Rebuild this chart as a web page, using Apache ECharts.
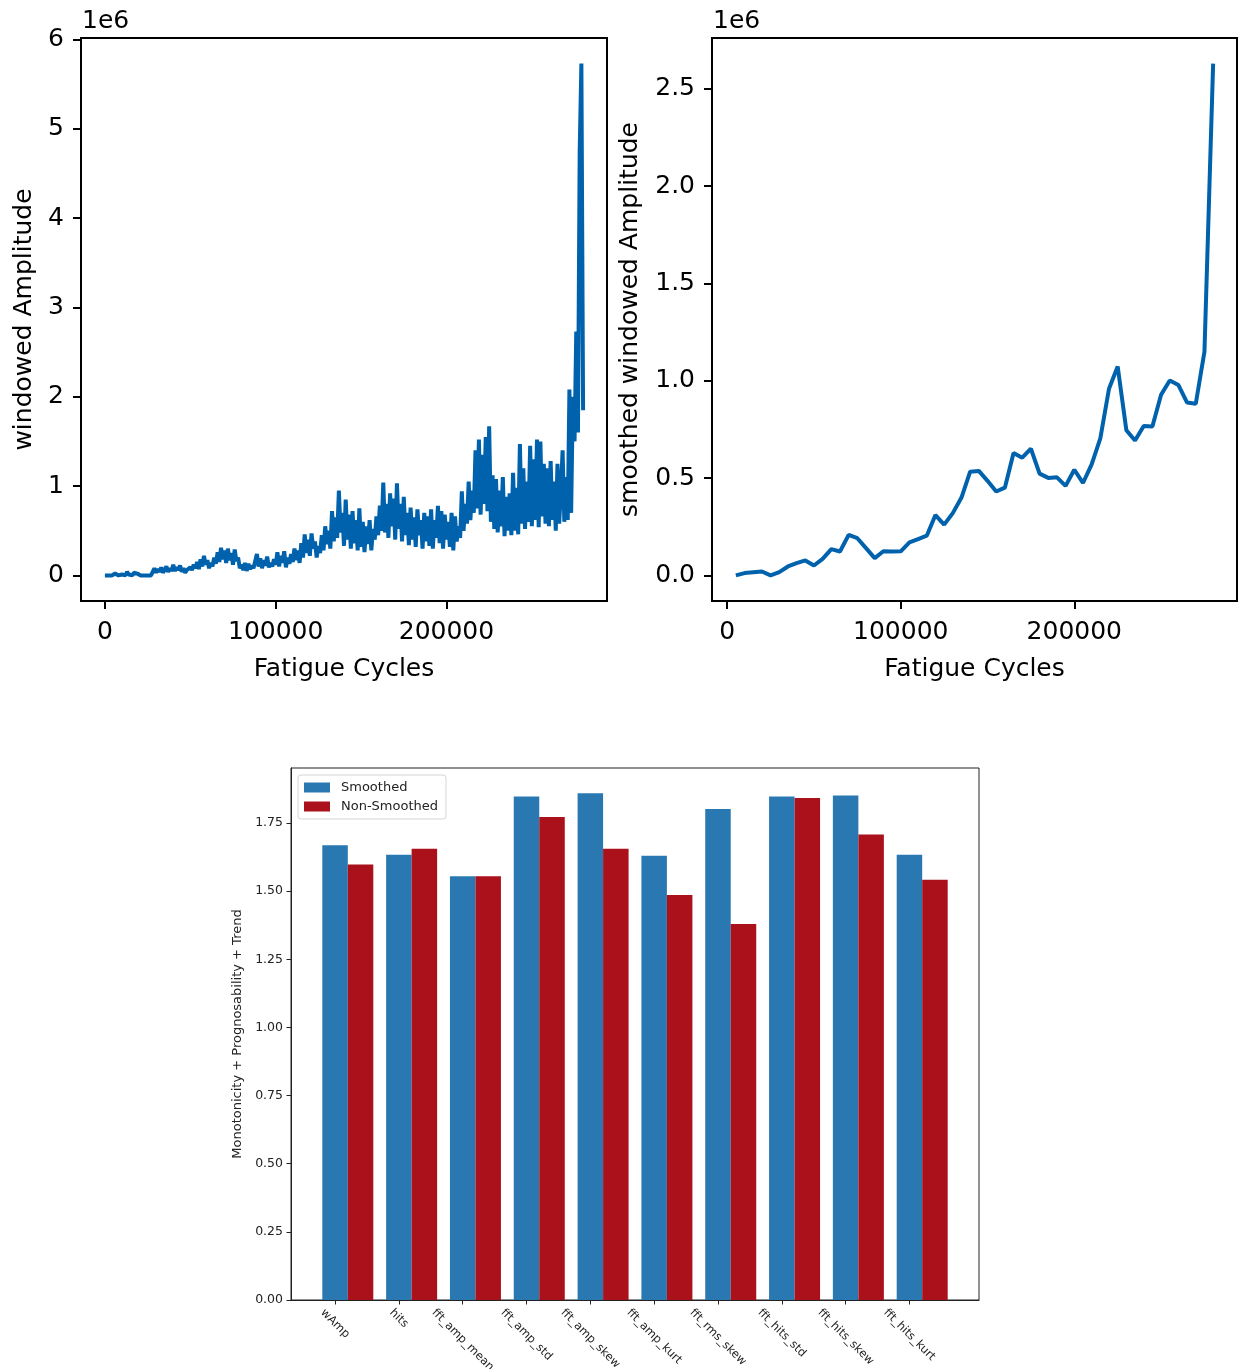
<!DOCTYPE html>
<html><head><meta charset="utf-8">
<script src="https://cdn.jsdelivr.net/npm/echarts@6/dist/echarts.min.js"></script>
<style>html,body{margin:0;padding:0;background:#fff}#c{width:1242px;height:1369px}</style>
</head><body><div id="c"></div>
<script>
// ---------- data ----------
// windowed amplitude (units of 1e6), one reading every WIN_STEP cycles starting at 0
const WIN_STEP = 1000;
const WIN_AMP = [
0.00,0.01,0.00,0.02,0.00,0.01,0.02,0.04,0.00,0.02,
0.01,0.03,0.00,0.04,0.01,0.02,0.00,0.03,0.01,0.02,
0.01,0.00,0.02,0.00,0.01,0.00,0.01,0.00,0.02,0.08,
0.03,0.07,0.04,0.09,0.03,0.06,0.10,0.04,0.08,0.05,
0.12,0.05,0.09,0.06,0.11,0.04,0.08,0.03,0.06,0.05,
0.09,0.06,0.12,0.08,0.15,0.07,0.18,0.10,0.22,0.12,
0.17,0.08,0.14,0.10,0.20,0.13,0.26,0.15,0.31,0.18,
0.28,0.14,0.30,0.17,0.25,0.12,0.29,0.16,0.20,0.08,
0.12,0.06,0.14,0.05,0.13,0.07,0.11,0.08,0.16,0.24,
0.10,0.19,0.08,0.17,0.11,0.21,0.09,0.14,0.10,0.18,
0.12,0.26,0.10,0.22,0.14,0.27,0.09,0.20,0.13,0.24,
0.15,0.30,0.17,0.28,0.14,0.36,0.20,0.46,0.25,0.40,
0.22,0.47,0.30,0.38,0.20,0.33,0.25,0.45,0.28,0.55,
0.35,0.50,0.30,0.72,0.38,0.65,0.42,0.95,0.48,0.70,
0.33,0.85,0.40,0.68,0.30,0.72,0.36,0.62,0.28,0.75,
0.32,0.60,0.26,0.55,0.35,0.62,0.28,0.52,0.40,0.66,
0.45,0.78,0.50,1.04,0.48,0.80,0.42,0.92,0.55,0.86,
0.40,1.03,0.52,0.80,0.38,0.88,0.45,0.70,0.34,0.76,
0.40,0.65,0.32,0.74,0.45,0.62,0.30,0.70,0.38,0.66,
0.33,0.74,0.30,0.62,0.42,0.78,0.36,0.72,0.30,0.68,
0.40,0.60,0.32,0.70,0.28,0.66,0.38,0.55,0.42,0.94,
0.50,0.80,0.58,1.05,0.62,0.95,0.70,1.40,0.75,1.52,
0.68,1.35,0.80,1.55,0.72,1.67,0.60,1.12,0.52,1.08,
0.48,0.95,0.55,1.10,0.44,0.88,0.50,0.92,0.45,1.15,
0.50,0.98,0.46,1.47,0.58,1.20,0.52,1.05,0.60,1.45,
0.55,1.30,0.62,1.52,0.54,1.50,0.66,1.25,0.58,1.20,
0.55,1.28,0.62,1.05,0.50,1.25,0.58,0.95,1.40,0.60,
1.10,0.62,2.08,0.70,2.00,1.50,2.73,1.60,4.73,5.73,
1.85
];

// smoothed windowed amplitude (units of 1e6)
const SMOOTH_CYCLES = [
5000,10000,15000,20000,25000,30000,35000,40000,45000,50000,
55000,60000,65000,70000,75000,80000,85000,90000,95000,100000,
105000,110000,115000,120000,125000,130000,135000,140000,145000,150000,
155000,160000,165000,170000,175000,180000,185000,190000,195000,200000,
205000,210000,215000,220000,225000,230000,235000,240000,245000,250000,
255000,260000,265000,270000,275000,280000];
const SMOOTH_AMP = [
0.000,0.012,0.016,0.020,0.000,0.017,0.046,0.063,0.077,0.051,
0.085,0.135,0.123,0.208,0.191,0.140,0.089,0.124,0.123,0.124,
0.170,0.187,0.204,0.310,0.261,0.320,0.400,0.533,0.537,0.486,
0.431,0.451,0.629,0.605,0.651,0.523,0.501,0.504,0.460,0.543,
0.475,0.571,0.704,0.959,1.073,0.746,0.693,0.768,0.765,0.928,
1.002,0.978,0.888,0.882,1.150,2.630];

const X_TICKS = [0, 100000, 200000];
const LEFT_Y_TICKS = [0, 1, 2, 3, 4, 5, 6];
const RIGHT_Y_TICKS = [0, 0.5, 1.0, 1.5, 2.0, 2.5];

// bar chart
const FEATURES = ['wAmp','hits','fft_amp_mean','fft_amp_std','fft_amp_skew','fft_amp_kurt','fft_rms_skew','fft_hits_std','fft_hits_skew','fft_hits_kurt'];
const SMOOTHED = [1.669,1.634,1.555,1.847,1.859,1.630,1.802,1.847,1.851,1.634];
const NON_SMOOTHED = [1.598,1.656,1.555,1.772,1.656,1.486,1.380,1.842,1.708,1.542];
const BAR_Y_TICKS = [0, 0.25, 0.5, 0.75, 1.0, 1.25, 1.5, 1.75];

// ---------- chart ----------
const FONT = 'DejaVu Sans';
const LINE_COLOR = '#0062ad';
const BLUE = '#2a78b2';
const RED = '#aa111b';
const CAT_FONT = 11.5;

const winData = WIN_AMP.map((v, k) => [k * WIN_STEP, v]);
const smoothData = SMOOTH_AMP.map((v, k) => [SMOOTH_CYCLES[k], v]);

const ctx = document.createElement('canvas').getContext('2d');
ctx.font = CAT_FONT + 'px "' + FONT + '"';
const rich = {};
FEATURES.forEach((f, i) => {
  const w = ctx.measureText(f).width;
  rich['f' + i] = {padding: [w * 0.5, 0, 0, w * 0.5], fontSize: CAT_FONT, fontFamily: FONT, color: '#222'};
});

function topX(gridIndex) {
  return {
    type: 'value', gridIndex, min: -14000, max: 294000,
    axisLine: {onZero: false, lineStyle: {color: '#000', width: 2}},
    axisTick: {customValues: X_TICKS, length: 8, lineStyle: {color: '#000', width: 2}},
    axisLabel: {customValues: X_TICKS, fontSize: 25, fontFamily: FONT, color: '#000', margin: 19,
      formatter: v => String(v)},
    splitLine: {show: false},
    name: 'Fatigue Cycles', nameLocation: 'middle', nameGap: 56,
    nameTextStyle: {fontSize: 25, fontFamily: FONT, color: '#000'}
  };
}

const option = {
  animation: false,
  backgroundColor: '#fff',
  grid: [
    {left: 81, top: 38, width: 526, height: 563, show: true, borderColor: '#000', borderWidth: 2, backgroundColor: 'transparent', outerBoundsMode: 'none', containLabel: false},
    {left: 712, top: 38, width: 525, height: 563, show: true, borderColor: '#000', borderWidth: 2, backgroundColor: 'transparent', outerBoundsMode: 'none', containLabel: false},
    {left: 291, top: 768, width: 688, height: 532, show: true, borderColor: '#222', borderWidth: 1, backgroundColor: 'transparent', outerBoundsMode: 'none', containLabel: false}
  ],
  xAxis: [
    topX(0),
    Object.assign(topX(1), {min: -8750, max: 293750}),
    {
      type: 'value', gridIndex: 2, min: -0.89, max: 9.89,
      axisLine: {onZero: false, lineStyle: {color: '#222', width: 1}},
      axisTick: {customValues: FEATURES.map((f, i) => i - 0.2), length: 4.5, lineStyle: {color: '#222', width: 1}},
      axisLabel: {
        customValues: FEATURES.map((f, i) => i - 0.2),
        rotate: -45, align: 'center', verticalAlign: 'middle', margin: 11,
        formatter: v => { const i = Math.round(v + 0.2); return '{f' + i + '|' + FEATURES[i] + '}'; },
        rich
      },
      splitLine: {show: false}
    }
  ],
  yAxis: [
    {
      type: 'value', gridIndex: 0, min: -0.2865, max: 6.0165,
      axisLine: {onZero: false, lineStyle: {color: '#000', width: 2}},
      axisTick: {customValues: LEFT_Y_TICKS, length: 8, lineStyle: {color: '#000', width: 2}},
      axisLabel: {customValues: LEFT_Y_TICKS, fontSize: 25, fontFamily: FONT, color: '#000', margin: 17},
      splitLine: {show: false},
      name: 'windowed Amplitude', nameLocation: 'middle', nameGap: 44, nameRotate: 90,
      nameTextStyle: {fontSize: 25, fontFamily: FONT, color: '#000'}
    },
    {
      type: 'value', gridIndex: 1, min: -0.1315, max: 2.7615,
      axisLine: {onZero: false, lineStyle: {color: '#000', width: 2}},
      axisTick: {customValues: RIGHT_Y_TICKS, length: 8, lineStyle: {color: '#000', width: 2}},
      axisLabel: {customValues: RIGHT_Y_TICKS, fontSize: 25, fontFamily: FONT, color: '#000', margin: 17,
        formatter: v => v.toFixed(1)},
      splitLine: {show: false},
      name: 'smoothed windowed Amplitude', nameLocation: 'middle', nameGap: 69, nameRotate: 90,
      nameTextStyle: {fontSize: 25, fontFamily: FONT, color: '#000'}
    },
    {
      type: 'value', gridIndex: 2, min: 0, max: 1.952,
      axisLine: {onZero: false, lineStyle: {color: '#222', width: 1}},
      axisTick: {customValues: BAR_Y_TICKS, length: 4.5, lineStyle: {color: '#222', width: 1}},
      axisLabel: {customValues: BAR_Y_TICKS, fontSize: 12.5, fontFamily: FONT, color: '#222', margin: 8,
        formatter: v => v.toFixed(2)},
      splitLine: {show: false},
      name: 'Monotonicity + Prognosability + Trend', nameLocation: 'middle', nameGap: 44, nameRotate: 90,
      nameTextStyle: {fontSize: 13, fontFamily: FONT, color: '#222'}
    }
  ],
  legend: {
    data: ['Smoothed', 'Non-Smoothed'], left: 298, top: 775, orient: 'vertical',
    icon: 'rect', itemWidth: 26, itemHeight: 10, itemGap: 6,
    padding: [6, 8, 6, 6], borderColor: '#d5d5d5', borderWidth: 1, borderRadius: 3, backgroundColor: '#fff',
    textStyle: {fontSize: 13, fontFamily: FONT, color: '#222', padding: [0, 0, 0, 6]}
  },
  graphic: [
    {type: 'text', left: 82, top: 9, style: {text: '1e6', fontSize: 25, fontFamily: FONT, fill: '#000'}},
    {type: 'text', left: 713, top: 9, style: {text: '1e6', fontSize: 25, fontFamily: FONT, fill: '#000'}}
  ],
  series: [
    {type: 'line', xAxisIndex: 0, yAxisIndex: 0, data: winData, showSymbol: false,
      lineStyle: {color: LINE_COLOR, width: 4}, itemStyle: {color: LINE_COLOR}},
    {type: 'line', xAxisIndex: 1, yAxisIndex: 1, data: smoothData, showSymbol: false,
      lineStyle: {color: LINE_COLOR, width: 4}, itemStyle: {color: LINE_COLOR}},
    {type: 'bar', name: 'Smoothed', xAxisIndex: 2, yAxisIndex: 2, data: SMOOTHED.map((v, i) => [i, v]),
      barWidth: 25.5, barGap: '0%', itemStyle: {color: BLUE}},
    {type: 'bar', name: 'Non-Smoothed', xAxisIndex: 2, yAxisIndex: 2, data: NON_SMOOTHED.map((v, i) => [i, v]),
      barWidth: 25.5, barGap: '0%', itemStyle: {color: RED}}
  ]
};
echarts.init(document.getElementById('c'), null, {renderer: 'canvas'}).setOption(option);
</script></body></html>
